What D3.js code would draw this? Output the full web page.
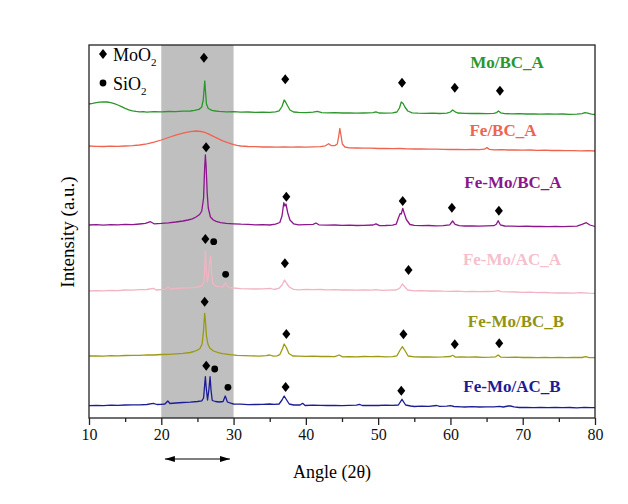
<!DOCTYPE html>
<html>
<head>
<meta charset="utf-8">
<script src="https://cdn.jsdelivr.net/npm/d3@7"></script>
<style>
  body { margin: 0; background: #fff; }
  svg { display: block; font-family: "Liberation Serif", "Times New Roman", serif; }
  svg text { font-family: "Liberation Serif", "Times New Roman", serif; }
</style>
</head>
<body>
<svg id="chart" width="628" height="504"></svg>
<script>
// XRD patterns, [angle 2θ, intensity a.u.] (traces stacked with offsets)
const moBcA = [[10,314],[10.5,314.6],[11,315.4],[11.5,315.8],[12,316.2],[12.5,316],[13,315.4],[13.5,314.4],[14,313],[14.5,311.4],[15,309.6],[15.5,308.2],[16,307.2],[16.5,306.6],[17,306.2],[17.5,306.4],[18,305.9],[19,306.3],[20,306.1],[21,306.5],[22,306.4],[23,306.9],[24,307],[24.6,307.6],[25.2,308.6],[25.6,311],[25.8,318],[25.95,331],[26.02,337],[26.1,328],[26.25,314],[26.5,309.5],[27,307.6],[27.5,307],[28,306.6],[29,306.2],[30,306.3],[31,305.8],[32,306],[33,305.6],[34,305.9],[35,305.7],[35.8,306.2],[36.3,307.2],[36.7,311.5],[37,318],[37.2,316],[37.45,312.5],[37.8,308],[38.3,306],[39,305.6],[40,305.4],[41,305.8],[41.6,306.6],[42.2,305.4],[43,305.1],[44,305.3],[45,305],[46,305.2],[47,304.8],[48,305],[49.3,305.4],[49.7,306.2],[50.1,305],[51,304.9],[52,305.1],[52.6,306],[52.95,310],[53.2,316],[53.45,314.5],[53.7,311],[54.1,307],[54.7,305.2],[55.5,304.8],[56.5,304.6],[57.5,304.8],[58.5,304.5],[59.5,304.8],[60,306],[60.3,308],[60.6,306.4],[61,305],[62,304.6],[63,304.5],[64,304.7],[65,304.4],[66,304.6],[66.4,305.4],[66.65,307],[66.95,305.2],[67.5,304.4],[68.5,304.2],[69.5,304.4],[70.5,304],[71.5,304.2],[72.5,303.9],[73.5,304.1],[74.5,303.8],[75.5,304],[76.5,303.7],[77.5,303.9],[78.2,304.4],[78.6,305.3],[79,304.8],[79.5,303.8],[80,303.5]];

const feBcA = [[10,272],[11,271.6],[12,271.5],[13,271.8],[14,271.6],[15,272],[16,272.4],[17,273],[18,274.2],[19,275.8],[20,278],[21,280.5],[22,282.8],[23,284.8],[24,286.3],[24.8,287],[25.5,286.5],[26,285.6],[26.5,284.2],[27,282.4],[27.5,280.6],[28,278.8],[28.5,277.2],[29,275.8],[29.5,274.6],[30,273.4],[30.5,272.6],[31,272],[32,271.5],[33,271.3],[34,271],[35,271.2],[36,270.9],[37,271.1],[38,270.8],[39,271],[40,270.9],[41,271.2],[42,271.4],[42.7,272.2],[43.15,274.3],[43.5,272.4],[44,272.4],[44.35,274],[44.55,282],[44.7,289.7],[44.85,283],[45.05,274],[45.4,271],[46,270.2],[47,270],[48,269.8],[49,269.9],[50,269.5],[51,269.6],[52,269.3],[53,269.5],[54,269.1],[55,269],[56,269.2],[57,268.8],[58,268.9],[59,268.6],[60,268.5],[61,268.7],[62,268.4],[63,268.5],[64,268.3],[64.7,268.8],[65.05,270.4],[65.4,268.6],[66,268.2],[67,268.3],[68,268],[69,268.1],[70,267.9],[71,268],[72,267.7],[73,267.8],[74,267.5],[75,267.6],[76,267.3],[77,267.4],[78,267.2],[79,267.3],[80,267]];

const feMoBcA = [[10,193],[11,193.3],[12,192.9],[13,193.4],[14,193.1],[15,193.6],[16,193.4],[17,194],[17.8,194.6],[18.5,196.3],[19,194.2],[20,194.6],[21,195.2],[22,196],[23,197],[23.7,198],[24.3,199.2],[24.8,201],[25.3,203.5],[25.6,207],[25.85,220],[26.0,250],[26.1,263],[26.2,252],[26.35,225],[26.5,210],[26.8,201],[27.2,198],[27.6,196.6],[28.2,195.4],[29,194.6],[30,194.2],[31,193.8],[32,193.6],[33,193.2],[34,193.4],[35,193],[35.8,193.8],[36.4,195.5],[36.7,202],[36.95,215.3],[37.1,212],[37.25,214],[37.5,205],[37.8,198],[38.3,194.2],[39,193.2],[40,193.4],[41,193.6],[41.4,195],[41.8,193.2],[43,192.8],[44,193],[45,192.6],[46,192.8],[47,192.5],[48,192.7],[49.3,193],[49.7,194.2],[50.2,192.4],[51,192.5],[52,192.9],[52.5,193.8],[52.8,200],[53.05,204.5],[53.2,204],[53.4,209.7],[53.6,205],[53.9,198.5],[54.4,193.5],[55,192.6],[56,192.3],[57,192.5],[58,192.1],[59,192.3],[59.9,193.2],[60.3,197],[60.65,193.6],[61.2,192.3],[62,192],[63,192.2],[64,191.9],[65,192.1],[66,192.3],[66.35,193.8],[66.6,197.3],[66.9,193.2],[67.5,192],[68.5,191.8],[69.5,191.6],[70.5,191.8],[71.5,191.5],[72.5,191.7],[73.5,191.4],[74.5,191.6],[75.5,191.4],[76.5,191.6],[77.5,191.8],[78.2,193.6],[78.8,195.3],[79.3,193],[80,191.5]];

const feMoAcA = [[10,127],[11,127.3],[12,127.1],[13,127.6],[14,127.4],[15,128],[16,127.9],[17,128.4],[18,128.5],[18.9,129.7],[19.3,128],[20,128.5],[20.6,129.2],[21,131],[21.3,129],[22,129.5],[23,130],[24,130.2],[25,131],[25.6,132],[25.9,136],[26.02,150],[26.1,167],[26.2,150],[26.35,136],[26.55,143],[26.72,158],[26.82,162],[26.95,148],[27.1,135],[27.5,132],[28,131.4],[28.5,131.2],[28.7,133],[28.85,135],[29.05,132.5],[29.4,130.5],[30,130],[31,129.4],[32,129.2],[33,129],[34,129.2],[35.1,129.7],[35.6,128.5],[36.3,129.8],[36.7,133],[37.05,138],[37.35,134.5],[37.7,131],[38.3,128.6],[39,128.2],[40,128.6],[41,128.3],[42,128.5],[43,128.1],[44,128.3],[45,128],[46,128.2],[47,127.9],[48,128.1],[49,127.8],[49.7,128.4],[50.5,127.7],[51.5,127.9],[52.5,128],[53,130],[53.35,134],[53.7,131],[54.1,128],[55,127.2],[56,127.4],[57,127],[58,127.2],[59,126.8],[60,126.6],[61,126.8],[62,126.4],[63,126.6],[64,126.3],[65,126.5],[66,126.6],[66.6,127.4],[67,126.4],[68,126.2],[69,126],[70,125.6],[71,125.8],[72,125.4],[73,125.5],[74,125.2],[75,125],[76,125.1],[77,124.8],[78,125.3],[79,124.9],[80,124.7]];

const feMoBcB = [[10,62],[11,62.2],[12,61.9],[13,62.4],[14,62.2],[15,62.5],[16,62.7],[17,62.6],[18,63.1],[19,63],[20,63.5],[21,63.6],[22,64.1],[23,64.7],[24,65.5],[24.5,66.5],[25,67.8],[25.35,69.5],[25.65,74],[25.85,88],[26.0,104.7],[26.1,98],[26.25,82],[26.45,74],[26.7,70],[27.2,67],[28,65.2],[28.5,64.3],[29.5,63.3],[30.5,62.6],[31.5,62.3],[32.5,62.1],[33.5,61.9],[34.5,62.3],[35,63],[35.5,61.8],[36,62.2],[36.4,63.4],[36.75,69],[37.0,74],[37.3,70.5],[37.65,64.5],[38.2,62],[39,61.8],[40,61.6],[41,61.8],[42,61.5],[43,61.7],[44,61.4],[44.6,63],[45.1,61.2],[46,61.4],[47,61.2],[48,61.5],[49,61.3],[50,61.6],[51,61.2],[52,61.4],[52.6,62.2],[53.0,67.5],[53.35,71.3],[53.7,67.5],[54.15,62],[55,61.2],[56,61],[57,61.2],[58,60.9],[59,61.1],[60,61.5],[60.3,62.7],[60.7,60.9],[61.5,61],[62.5,60.8],[63.5,61],[64.5,60.7],[65.5,60.9],[66.25,61.2],[66.6,63],[66.95,60.9],[68,60.6],[69,60.8],[70,60.5],[71,60.7],[72,60.4],[73,60.6],[74,60.3],[75,60.5],[76,60.4],[77,60.6],[78.2,60.5],[78.7,61.3],[79.2,60.3],[80,60.3]];

const feMoAcB = [[10,12.3],[11,12.6],[12,12.4],[13,12.9],[14,12.7],[15,13],[16,13.2],[17,13.1],[18,13.5],[18.9,14.7],[19.4,13.5],[20,13.7],[20.5,14],[20.9,17],[21.2,14.5],[22,15],[23,15.5],[24,15.8],[25,16.5],[25.6,17.2],[25.85,20],[26.0,33],[26.1,41.3],[26.22,30],[26.4,18],[26.58,28],[26.75,41.3],[26.88,28],[27.05,17.5],[27.5,16.5],[28,16],[28.55,16.5],[28.85,22],[29.15,16],[29.6,14.8],[30,14],[31,13.8],[32,13.4],[33,13.5],[34,13.6],[35,14],[35.6,13.6],[36.3,14],[36.7,18],[37.0,22],[37.3,18.5],[37.7,14],[38.3,13],[39.2,13],[39.55,14.7],[39.9,12.5],[41,12.8],[42,12.6],[43,12.5],[44,12.7],[45,12.4],[46,12.6],[47,12.8],[47.4,13.6],[47.8,12.5],[49,12.7],[50,12.5],[51,12.8],[52,12.6],[52.8,13],[53.3,18.7],[53.8,13],[54.5,12],[55,11.5],[56,11.8],[57,11.6],[58.1,12.5],[58.5,11.6],[59.5,11.8],[60,12.3],[60.5,11.5],[61.5,11.2],[62,11],[63,11.3],[64,11],[65,11.2],[66,11.1],[66.8,11.6],[67.3,11],[68,12],[68.3,12],[68.8,11.2],[69.5,10.5],[70.5,10.7],[71.5,10.4],[72.5,10.6],[73.5,10.3],[74.5,10.5],[75.5,10.3],[76.5,10.5],[77.5,10.2],[78.5,10.6],[79.5,10.3],[80,10.3]];

// phase markers: [angle, intensity, phase]
const moBcAMarks = [[25.9,360.3,"MoO2"],[37.15,338.7,"MoO2"],[53.3,335.3,"MoO2"],[60.6,330.3,"MoO2"],[66.85,327.3,"MoO2"]];
const feMoBcAMarks = [[26.2,270.7,"MoO2"],[37.3,221.3,"MoO2"],[53.4,217,"MoO2"],[60.2,210.3,"MoO2"],[66.7,207.3,"MoO2"]];
const feMoAcAMarks = [[26.1,179,"MoO2"],[27.25,176.3,"SiO2"],[28.9,143.7,"SiO2"],[37.1,154.7,"MoO2"],[54.2,148,"MoO2"]];
const feMoBcBMarks = [[26.0,116.3,"MoO2"],[37.3,84,"MoO2"],[53.5,83.7,"MoO2"],[60.6,73.7,"MoO2"],[66.75,74.7,"MoO2"]];
const feMoAcBMarks = [[26.22,52.3,"MoO2"],[27.39,49,"SiO2"],[29.22,30.7,"SiO2"],[37.2,31,"MoO2"],[53.2,27.3,"MoO2"]];

const sampleNames = ["Mo/BC_A", "Fe/BC_A", "Fe-Mo/BC_A", "Fe-Mo/AC_A", "Fe-Mo/BC_B", "Fe-Mo/AC_B"];
const xTicks = [10, 20, 30, 40, 50, 60, 70, 80];
const xMinorTicks = [15, 25, 35, 45, 55, 65, 75];
const highlightRange = [20, 30];

// styling / layout per sample
const series = [
  { name: sampleNames[0], data: moBcA, marks: moBcAMarks, color: "#2b962b", labelColor: "#2b962b", lx: 507, ly: 68 },
  { name: sampleNames[1], data: feBcA, marks: [], color: "#ee6450", labelColor: "#ee6450", lx: 503, ly: 136 },
  { name: sampleNames[2], data: feMoBcA, marks: feMoBcAMarks, color: "#8c168c", labelColor: "#8c168c", lx: 513, ly: 188 },
  { name: sampleNames[3], data: feMoAcA, marks: feMoAcAMarks, color: "#f2b4c2", labelColor: "#f5c0cb", lx: 512, ly: 265 },
  { name: sampleNames[4], data: feMoBcB, marks: feMoBcBMarks, color: "#9a9a14", labelColor: "#939312", lx: 516, ly: 327 },
  { name: sampleNames[5], data: feMoAcB, marks: feMoAcBMarks, color: "#1c1c96", labelColor: "#1c1c96", lx: 512, ly: 392 }
];

const serif = "'Liberation Serif', 'Times New Roman', serif";
const margin = { top: 45, right: 33, bottom: 86, left: 89 };
const svgWidth = 628, svgHeight = 504;
const width = svgWidth - margin.left - margin.right;
const height = svgHeight - margin.top - margin.bottom;

const svgEl = d3.select("#chart");
const g = svgEl.append("g").attr("transform", `translate(${margin.left},${margin.top})`);

const xScale = d3.scaleLinear().domain([10, 80]).range([0, width]);
const yScale = d3.scaleLinear().domain([0, 373]).range([height, 0]);

// grey 20-30° band
g.append("rect")
  .attr("x", xScale(highlightRange[0]))
  .attr("y", 0)
  .attr("width", xScale(highlightRange[1]) - xScale(highlightRange[0]))
  .attr("height", height)
  .attr("fill", "#bfbfbf");

const line = d3.line()
  .x(d => xScale(d[0]))
  .y(d => yScale(d[1]));

g.append("g")
  .attr("class", "traces")
  .selectAll("path")
  .data(series)
  .enter()
  .append("path")
  .attr("d", d => line(d.data))
  .attr("fill", "none")
  .attr("stroke", d => d.color)
  .attr("stroke-width", 1.3)
  .attr("stroke-linejoin", "round");

// diamond / dot markers
const diamond = (w, h) => `M0,${-h / 2}L${w / 2},0L0,${h / 2}L${-w / 2},0Z`;

function drawMark(sel, phase) {
  if (phase === "MoO2") {
    sel.append("path").attr("d", diamond(8, 10)).attr("fill", "#000");
  } else {
    sel.append("circle").attr("r", 3.4).attr("fill", "#000");
  }
}

const allMarks = series.flatMap(s => s.marks);
g.append("g")
  .attr("class", "marks")
  .selectAll("g")
  .data(allMarks)
  .enter()
  .append("g")
  .attr("transform", d => `translate(${xScale(d[0])},${yScale(d[1])})`)
  .each(function (d) { drawMark(d3.select(this), d[2]); });

// sample labels
svgEl.append("g")
  .selectAll("text")
  .data(series)
  .enter()
  .append("text")
  .attr("x", d => d.lx)
  .attr("y", d => d.ly)
  .attr("text-anchor", "middle")
  .attr("font-size", 17)
  .attr("font-weight", "bold")
  .attr("fill", d => d.labelColor)
  .text(d => d.name);

// legend
const legend = svgEl.append("g").attr("class", "legend");
[["MoO", 54, "MoO2"], ["SiO", 83, "SiO2"]].forEach(([txt, y, phase]) => {
  const item = legend.append("g").attr("transform", `translate(103,${y})`);
  drawMark(item, phase);
  const t = item.append("text").attr("x", 10).attr("y", 7).attr("font-size", 18).attr("fill", "#000");
  t.append("tspan").text(txt);
  t.append("tspan").attr("font-size", 11).attr("dy", 5).text("2");
});

// frame
g.append("rect")
  .attr("width", width)
  .attr("height", height)
  .attr("fill", "none")
  .attr("stroke", "#222")
  .attr("stroke-width", 1.3);

// bottom axis, major and minor ticks
const xAxis = d3.axisBottom(xScale).tickValues(xTicks).tickSize(7).tickPadding(4).tickFormat(d3.format("d"));
const xAxisMinor = d3.axisBottom(xScale).tickValues(xMinorTicks).tickSize(4).tickFormat("");

const axG = g.append("g").attr("transform", `translate(0,${height})`).call(xAxis);
axG.attr("font-family", serif).attr("font-size", 16);
axG.select(".domain").remove();
axG.selectAll("line").attr("stroke", "#222").attr("stroke-width", 1.3);
axG.selectAll("text")
  .style("font-family", serif)
  .attr("fill", "#111");

const axMinor = g.append("g").attr("transform", `translate(0,${height})`).call(xAxisMinor);
axMinor.select(".domain").remove();
axMinor.selectAll("line").attr("stroke", "#222").attr("stroke-width", 1.3);

// double-headed arrow under the band
const defs = svgEl.append("defs");
["start", "end"].forEach(k => {
  defs.append("marker")
    .attr("id", "arrow-" + k)
    .attr("viewBox", "0 0 10 6")
    .attr("refX", k === "end" ? 10 : 0)
    .attr("refY", 3)
    .attr("markerWidth", 10)
    .attr("markerHeight", 6)
    .attr("markerUnits", "userSpaceOnUse")
    .attr("orient", "auto")
    .append("path")
    .attr("d", k === "end" ? "M0,0L10,3L0,6Z" : "M10,0L0,3L10,6Z")
    .attr("fill", "#000");
});
g.append("line")
  .attr("x1", xScale(20.5))
  .attr("x2", xScale(29.5))
  .attr("y1", height + 41)
  .attr("y2", height + 41)
  .attr("stroke", "#000")
  .attr("stroke-width", 1)
  .attr("marker-start", "url(#arrow-start)")
  .attr("marker-end", "url(#arrow-end)");

// axis titles
svgEl.append("text")
  .attr("x", margin.left + width / 2 - 10)
  .attr("y", 478)
  .attr("text-anchor", "middle")
  .attr("font-size", 18)
  .text("Angle (2θ)");

svgEl.append("text")
  .attr("transform", "translate(74,232) rotate(-90)")
  .attr("text-anchor", "middle")
  .attr("font-size", 19)
  .text("Intensity (a.u.)");
</script>
</body>
</html>
